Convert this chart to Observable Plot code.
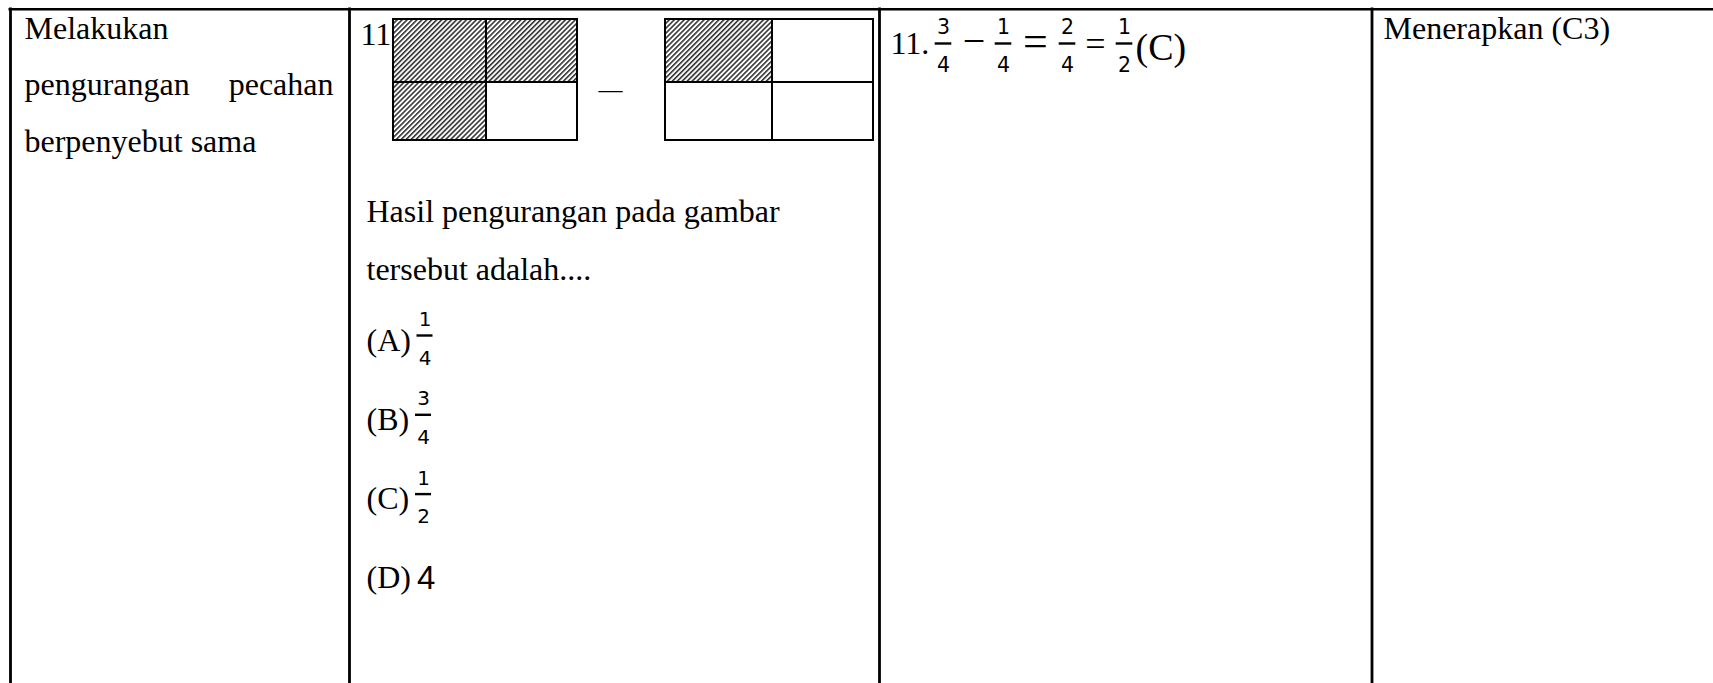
<!DOCTYPE html>
<html>
<head>
<meta charset="utf-8">
<script src="https://cdn.jsdelivr.net/npm/d3@7"></script>
<script src="https://cdn.jsdelivr.net/npm/@observablehq/plot@0.6"></script>
<style>
  html, body { margin: 0; padding: 0; background: #ffffff; }
  #chart svg { display: block; }
</style>
</head>
<body>
<div id="chart"></div>
<script>
// ---------- content (values) ----------
const skillWords = ["Melakukan", "pengurangan", "pecahan", "berpenyebut sama"];
const questionNumber = "11";
const questionLines = ["Hasil pengurangan pada gambar", "tersebut adalah...."];
const optionLabels = ["(A)", "(B)", "(C)", "(D)"];
const optionNumerators = ["1", "3", "1"];
const optionDenominators = ["4", "4", "2"];
const optionWhole = ["4"];
const figureShadedLeft = [true, true, true, false];   // TL, TR, BL, BR
const figureShadedRight = [true, false, false, false];
const figureOperator = "—";
const answerNumber = "11.";
const answerNumerators = ["3", "1", "2", "1"];
const answerDenominators = ["4", "4", "4", "2"];
const answerOperators = ["−", "=", "="];
const answerKey = "(C)";
const levelText = "Menerapkan (C3)";

// ---------- layout ----------
const W = 1713, H = 683;
const colLines = [10, 349, 879, 1371.5];
const topLineY = 8.7;
const serif = "'Liberation Serif', 'Times New Roman', serif";
const mathFont = "'DejaVu Sans', sans-serif";
const HATCH = "#010203";
const optBase = i => 350 + i * 79.3;

// text rows
const serifStart = [
  {t: skillWords[0], x: 24, b: 38},
  {t: skillWords[1], x: 24, b: 94.5},
  {t: skillWords[3], x: 24, b: 151},
  {t: questionLines[0], x: 366, b: 221},
  {t: questionLines[1], x: 366, b: 279},
  ...optionLabels.map((t, i) => ({t, x: 366, b: optBase(i)})),
  {t: answerNumber, x: 890, b: 53},
  {t: levelText, x: 1383, b: 38}
];
const serifEnd = [{t: skillWords[2], x: 333, b: 94.5}];

// figure grid cells
function cells(x0, xm, x1, y0, ym, y1, shaded) {
  const r = [[x0, xm, y0, ym], [xm, x1, y0, ym], [x0, xm, ym, y1], [xm, x1, ym, y1]];
  return r.map((c, i) => ({x1: c[0], x2: c[1], y1: c[2], y2: c[3], shaded: shaded[i]}));
}
const figCells = [
  ...cells(393, 486, 577, 19, 82, 140, figureShadedLeft),
  ...cells(665, 772, 873, 19, 82, 140, figureShadedRight)
];

// fractions
const optionFractions = optionNumerators.map((n, i) => {
  const bar = optBase(i) - 15;
  const cx = i === 0 ? 424.5 : 423;
  return {num: n, den: optionDenominators[i], cx, bar, nb: bar - 9.5, db: bar + 29, hw: 8};
});
const answerCenters = [943, 1003, 1067, 1124];
const answerFractions = answerNumerators.map((n, i) => ({
  num: n, den: answerDenominators[i], cx: answerCenters[i], bar: 43, nb: 33.5, db: 71.5, hw: 8.3
}));

const opMarks = [
  {t: answerOperators[0], x: 973.5, b: 53, s: 40},
  {t: answerOperators[1], x: 1035, b: 55, s: 44},
  {t: answerOperators[2], x: 1095, b: 55.5, s: 36}
];

function hatchDefs(svg) {
  const defs = d3.select(svg).insert("defs", ":first-child");
  const p = defs.append("pattern")
    .attr("id", "hatch")
    .attr("patternUnits", "userSpaceOnUse")
    .attr("width", 3.5).attr("height", 3.5)
    .attr("patternTransform", "rotate(45)");
  p.append("rect").attr("width", 3.5).attr("height", 3.5).attr("fill", "#ffffff");
  p.append("line").attr("x1", 0.8).attr("y1", 0).attr("x2", 0.8).attr("y2", 3.5)
    .attr("stroke", "#333333").attr("stroke-width", 1.6);
  d3.select(svg).selectAll(`[fill="${HATCH}"]`).attr("fill", "url(#hatch)");
}

const chart = Plot.plot({
  width: W,
  height: H,
  margin: 0,
  x: {domain: [0, W], range: [0, W], axis: null},
  y: {domain: [0, H], range: [0, H], axis: null},
  style: {background: "#ffffff", overflow: "visible"},
  marks: [
    // figure cells
    Plot.rect(figCells, {filter: d => d.shaded, x1: "x1", x2: "x2", y1: "y1", y2: "y2", fill: HATCH, stroke: "#000", strokeWidth: 2}),
    Plot.rect(figCells, {filter: d => !d.shaded, x1: "x1", x2: "x2", y1: "y1", y2: "y2", fill: "#fff", stroke: "#000", strokeWidth: 2}),
    // table lines
    Plot.ruleY([topLineY], {x1: 8.5, x2: W, stroke: "#000", strokeWidth: 2.6}),
    Plot.ruleX(colLines, {y1: 7.4, y2: H, stroke: "#000", strokeWidth: 2.8}),
    // serif text
    Plot.text(serifStart, {x: "x", y: "b", text: "t", textAnchor: "start", lineAnchor: "bottom", fontFamily: serif, fontSize: 32, fill: "#000"}),
    Plot.text(serifEnd, {x: "x", y: "b", text: "t", textAnchor: "end", lineAnchor: "bottom", fontFamily: serif, fontSize: 32, fill: "#000"}),
    Plot.text([questionNumber], {x: 360, y: 44, text: d => d, textAnchor: "start", lineAnchor: "bottom", fontFamily: serif, fontSize: 32, fill: "#000"}),
    Plot.text([figureOperator], {x: 610, y: 96, text: d => d, textAnchor: "middle", lineAnchor: "bottom", fontFamily: serif, fontSize: 24, fill: "#000"}),
    // option fractions
    Plot.text(optionFractions, {x: "cx", y: "nb", text: "num", textAnchor: "middle", lineAnchor: "bottom", fontFamily: mathFont, fontSize: 20, fill: "#000"}),
    Plot.text(optionFractions, {x: "cx", y: "db", text: "den", textAnchor: "middle", lineAnchor: "bottom", fontFamily: mathFont, fontSize: 20, fill: "#000"}),
    Plot.ruleY(optionFractions, {y: "bar", x1: d => d.cx - d.hw, x2: d => d.cx + d.hw, stroke: "#000", strokeWidth: 2.4}),
    Plot.text(optionWhole, {x: 416.5, y: optBase(3) + 1, text: d => d, textAnchor: "start", lineAnchor: "bottom", fontFamily: "'Liberation Sans', Arial, sans-serif", fontSize: 33, fill: "#000"}),
    // answer fractions
    Plot.text(answerFractions, {x: "cx", y: "nb", text: "num", textAnchor: "middle", lineAnchor: "bottom", fontFamily: mathFont, fontSize: 20.5, fill: "#000"}),
    Plot.text(answerFractions, {x: "cx", y: "db", text: "den", textAnchor: "middle", lineAnchor: "bottom", fontFamily: mathFont, fontSize: 20.5, fill: "#000"}),
    Plot.ruleY(answerFractions, {y: "bar", x1: d => d.cx - d.hw, x2: d => d.cx + d.hw, stroke: "#000", strokeWidth: 2.4}),
    Plot.text(opMarks, {x: "x", y: "b", text: "t", fontSize: "s", textAnchor: "middle", lineAnchor: "bottom", fontFamily: serif, fill: "#000"}),
    Plot.text([answerKey], {x: 1135, y: 59, text: d => d, textAnchor: "start", lineAnchor: "bottom", fontFamily: serif, fontSize: 38, fill: "#000"})
  ]
});
hatchDefs(chart);
document.getElementById("chart").appendChild(chart);
</script>
</body>
</html>
